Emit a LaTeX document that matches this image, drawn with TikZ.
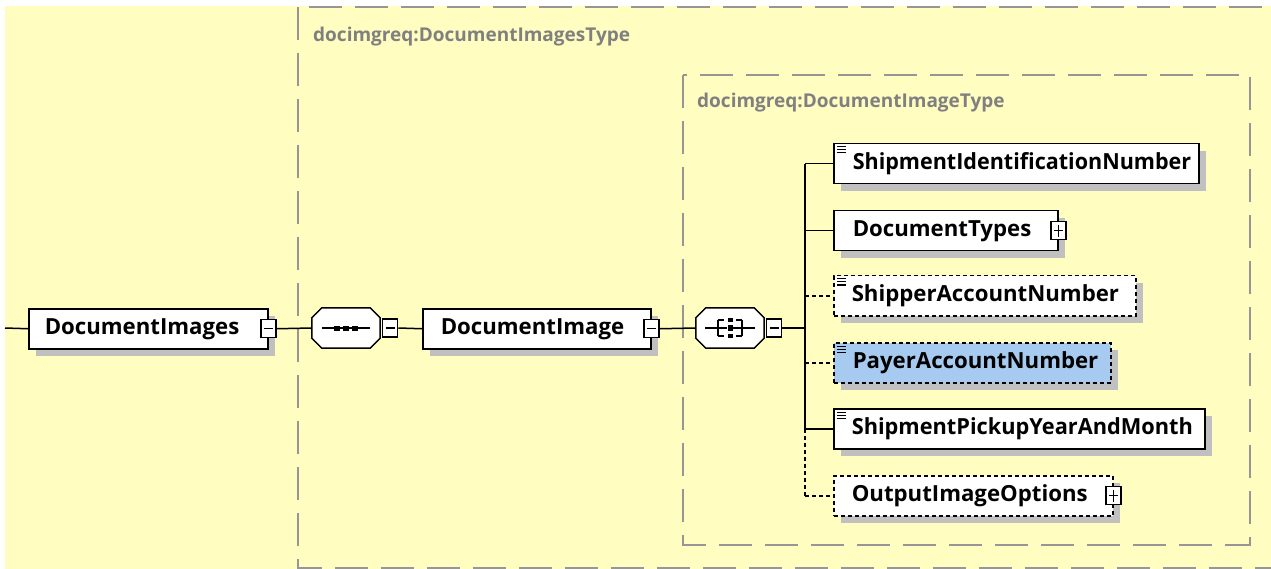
\documentclass[tikz,border=0pt]{standalone}
\usepackage{fontspec}
\setmainfont{Open Sans}
\usetikzlibrary{shadows,calc}
\definecolor{bgyellow}{RGB}{255,253,192}
\definecolor{shadowgray}{RGB}{192,192,192}
\definecolor{typegray}{RGB}{150,150,150}
\definecolor{titlegray}{RGB}{128,128,128}
\definecolor{payerblue}{RGB}{166,202,240}
\newcommand\lblfont{\fontsize{22.2}{26}\selectfont\bfseries}
\newcommand\ttlfont{\fontsize{19}{22}\selectfont\bfseries}
\tikzset{
  shad/.style={drop shadow={shadow xshift=7pt, shadow yshift=-7pt, fill=shadowgray, opacity=1}},
  elem/.style={draw=black, line width=1.5pt, fill=white, anchor=north west,
    minimum height=40pt, inner xsep=0pt, inner ysep=0pt, align=left, font=\lblfont, shad},
  opt/.style={dash pattern=on 4pt off 3pt},
  conn/.style={draw=black, line width=1.5pt},
  pmbox/.style={draw=black, line width=1.2pt, fill=white, minimum width=15pt, minimum height=18pt, inner sep=0pt},
  minusbox/.style={pmbox, path picture={\draw[line width=1.2pt]
      ([xshift=3pt]path picture bounding box.west) -- ([xshift=-3pt]path picture bounding box.east);}},
  plusbox/.style={pmbox, path picture={\draw[line width=1.2pt]
      ([xshift=3pt]path picture bounding box.west) -- ([xshift=-3pt]path picture bounding box.east)
      ([yshift=-3pt]path picture bounding box.north) -- ([yshift=3pt]path picture bounding box.south);}},
  compositor/.style={rectangle, draw=none, minimum width=68pt, minimum height=40pt, inner sep=0pt},
  typebox/.style={draw=typegray, line width=2pt, dash pattern=on 33pt off 13pt},
  ttl/.style={anchor=west, text=titlegray, font=\ttlfont, inner sep=0pt},
}
\newcommand\simpicon[1]{%
  \foreach \d in {4,7,10} \draw[line width=1pt] ($(#1.north west)+(4,\d)$) -- ++(9,0);}
\newcommand\octpath[1]{($(#1.north west)+(10,0)$) -- ($(#1.north east)+(-10,0)$) --
  ($(#1.north east)+(0,10)$) -- ($(#1.south east)+(0,-10)$) -- ($(#1.south east)+(-10,0)$) --
  ($(#1.south west)+(10,0)$) -- ($(#1.south west)+(0,-10)$) -- ($(#1.north west)+(0,10)$) -- cycle}
\newcommand\octagon[1]{%
  \fill[shadowgray, shift={(7,7)}] \octpath{#1};
  \filldraw[fill=white, draw=black, line width=1.5pt] \octpath{#1};}
\begin{document}
\begin{tikzpicture}[x=1pt,y=-1pt]
\useasboundingbox (0,0) rectangle (1271,569);
\clip (0,0) rectangle (1271,569);
\fill[white] (0,0) rectangle (1271,569);
\fill[bgyellow] (5,6) rectangle (1271,569);
% type boxes
\draw[typebox] (298,7) rectangle (1300,568);
\draw[typebox] (683,75) rectangle (1250,545);
\node[ttl] (t1) at (313,37) {docimgreq:DocumentImagesType};
\node[ttl] (t2) at (697,103) {docimgreq:DocumentImageType};
% main row
\coordinate (start) at (5,328);
\node[elem, text width=239pt] (dis) at (28,308) {\hspace*{16pt}DocumentImages};
\node[minusbox] (dism) at (dis.east) {};
\node[compositor] (seq) at (346,328) {};
\octagon{seq}
\node[minusbox, anchor=west] (seqm) at ([xshift=2pt]seq.east) {};
\node[elem, text width=228pt] (di) at (422,308) {\hspace*{18pt}DocumentImage};
\node[minusbox] (dim) at (di.east) {};
\node[compositor] (ch) at (730,328) {};
\octagon{ch}
\node[minusbox, anchor=west] (chm) at ([xshift=2pt]ch.east) {};
\coordinate (vx) at (805,328);
% sequence icon
\draw[line width=1.5pt] ($(seq.center)+(-24,0)$) -- ($(seq.center)+(24,0)$);
\foreach \dx in {-12,-3,6} \fill ($(seq.center)+(\dx,-2.5)$) rectangle ++(5.5,5);
% choice icon
\draw[line width=1.3pt] ($(ch.center)+(-25,0)$) -- ($(ch.center)+(-12,0)$)
  ($(ch.center)+(-12,-8)$) -- ($(ch.center)+(-12,8)$)
  ($(ch.center)+(-12,-8)$) -- ($(ch.center)+(-6,-8)$)
  ($(ch.center)+(-12,0)$) -- ($(ch.center)+(-3,0)$)
  ($(ch.center)+(-12,8)$) -- ($(ch.center)+(-6,8)$)
  ($(ch.center)+(12,-8)$) -- ($(ch.center)+(12,8)$)
  ($(ch.center)+(12,-8)$) -- ($(ch.center)+(6,-8)$)
  ($(ch.center)+(12,0)$) -- ($(ch.center)+(3,0)$)
  ($(ch.center)+(12,8)$) -- ($(ch.center)+(6,8)$)
  ($(ch.center)+(12,0)$) -- ($(ch.center)+(25,0)$);
\fill ($(ch.center)+(-2.5,-10)$) rectangle ++(5,4);
\fill ($(ch.center)+(-2.5,-3)$) rectangle ++(5,6);
\fill ($(ch.center)+(-2.5,6)$) rectangle ++(5,4);
% children
\node[elem, text width=365pt] (sid) at (833,143) {\hspace*{19pt}\scalebox{0.97}[1]{ShipmentIdentificationNumber}};
\simpicon{sid}
\node[elem, text width=224pt] (dt) at (833,210) {\hspace*{19pt}DocumentTypes};
\node[plusbox] (dtp) at (dt.east) {};
\node[elem, opt, text width=302pt] (sa) at (833,275) {\hspace*{18pt}ShipperAccountNumber};
\simpicon{sa}
\node[elem, opt, fill=payerblue, text width=277pt] (pa) at (833,342) {\hspace*{19pt}PayerAccountNumber};
\simpicon{pa}
\node[elem, text width=371pt] (pu) at (833,408) {\hspace*{18pt}\scalebox{0.98}[1]{ShipmentPickupYearAndMonth}};
\simpicon{pu}
\node[elem, opt, text width=279pt] (oo) at (833,475) {\hspace*{18pt}OutputImageOptions};
\node[plusbox] (oop) at (oo.east) {};
% connectors
\draw[conn] (start) -- (dis.west);
\draw[conn] (dism.east) -- (seq.west);
\draw[conn] (seqm.east) -- (di.west);
\draw[conn] (dim.east) -- (ch.west);
\draw[conn] (chm.east) -- (vx);
\draw[conn] (vx |- sid.west) -- (vx |- pu.west);
\draw[conn, opt] (vx |- pu.west) -- (vx |- oo.west);
\draw[conn] (vx |- sid.west) -- (sid.west);
\draw[conn] (vx |- dt.west) -- (dt.west);
\draw[conn, opt] (vx |- sa.west) -- (sa.west);
\draw[conn, opt] (vx |- pa.west) -- (pa.west);
\draw[conn] (vx |- pu.west) -- (pu.west);
\draw[conn, opt] (vx |- oo.west) -- (oo.west);
\end{tikzpicture}
\end{document}
